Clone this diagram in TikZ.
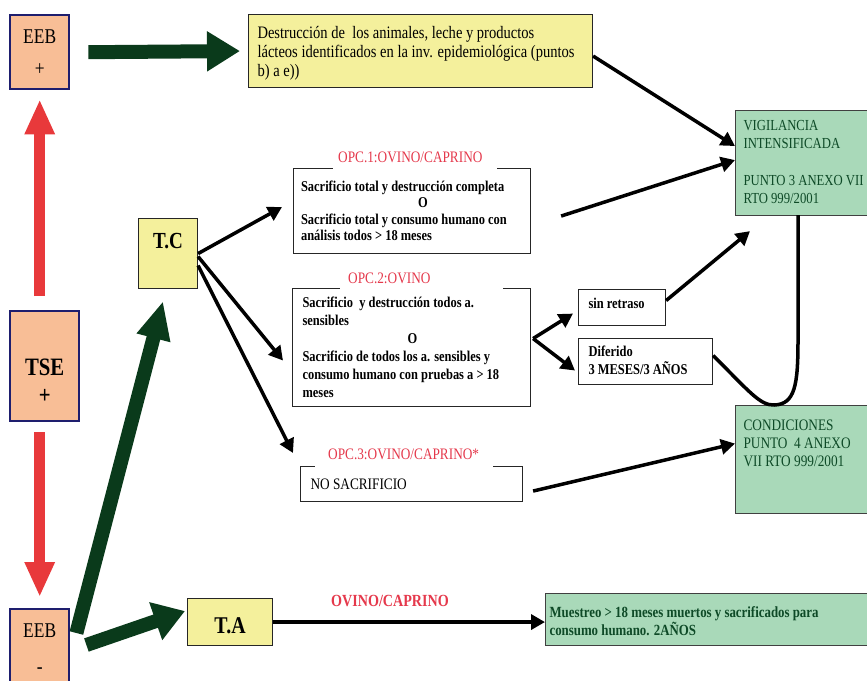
\documentclass[tikz,border=0pt]{standalone}
\usepackage{fontspec}
\setmainfont{Liberation Serif}[FakeStretch=0.83]
\usetikzlibrary{arrows.meta}
\definecolor{peach}{HTML}{F8BE96}
\definecolor{navy}{HTML}{1E1E6E}
\definecolor{yel}{HTML}{F4F09C}
\definecolor{grn}{HTML}{A9D9B9}
\definecolor{dgrn}{HTML}{0A3A1B}
\definecolor{gtext}{HTML}{0E4A27}
\definecolor{redarr}{HTML}{E8393B}
\definecolor{redtxt}{HTML}{E5394C}
\newcommand\tbox[3]{\parbox[t][#2][t]{#1}{\raggedright #3}}
\newcommand\cbox[4]{\parbox[t][#2][t]{#1}{\centering\vspace*{#3}#4}}
\begin{document}
\begin{tikzpicture}[x=1pt,y=-1pt,
  bx/.style={draw=black!85, line width=1.1pt, anchor=north west, inner xsep=8pt, inner ysep=6pt},
  gbx/.style={bx, fill=grn, draw=black!75, text=gtext},
  pbx/.style={draw=navy, line width=2.4pt, fill=peach, anchor=north west, inner sep=0pt},
  ybx/.style={draw=black!85, line width=1.1pt, fill=yel, anchor=north west, inner sep=0pt},
  lbl/.style={fill=white, text=redtxt, anchor=west, align=left, minimum height=24pt, inner ysep=0pt, font=\fontsize{16}{18}\selectfont},
  blk/.style={line width=3.5pt, -{Triangle[length=14pt,width=15pt]}},
  garr/.style={dgrn, line width=14pt},
  rarr/.style={redarr, line width=11pt, -{Triangle[length=35pt,width=28pt]}}
]
\useasboundingbox (0,0) rectangle (867,680);

% left column boxes
\node[pbx, font=\fontsize{21}{26}\selectfont] (eebp) at (9,14) {\cbox{59pt}{74pt}{15pt}{EEB\\[6pt]+}};
\node[pbx, font=\bfseries\fontsize{25}{28}\selectfont] (tse) at (9,310) {\cbox{69pt}{110pt}{48pt}{TSE\\+}};
\node[pbx, font=\fontsize{21}{26}\selectfont] (eebm) at (9,608) {\cbox{59pt}{80pt}{15pt}{EEB\\[10pt]-}};

\node[ybx, font=\bfseries\fontsize{23}{26}\selectfont] (tc) at (138,218) {\cbox{59pt}{70pt}{15pt}{T.C}};
\node[ybx, font=\bfseries\fontsize{24}{26}\selectfont] (ta) at (187,598) {\cbox{85pt}{47pt}{19pt}{T.A}};

\node[bx, fill=yel, inner xsep=9pt, inner ysep=12pt, font=\fontsize{17.5}{19}\selectfont] (dest) at (248,14) {\tbox{326pt}{49pt}{Destrucción de\ \ los animales, leche y productos\\lácteos identificados en la inv. epidemiológica (puntos\\b) a e))}};

\node[gbx, inner xsep=8pt, inner ysep=9.5pt, font=\fontsize{15.3}{18.3}\selectfont] (vig) at (735,110) {\tbox{150pt}{86pt}{VIGILANCIA\\INTENSIFICADA\\[18.3pt]PUNTO 3 ANEXO VII\\RTO 999/2001}};

\node[gbx, inner xsep=8pt, inner ysep=14.5pt, font=\fontsize{16}{18}\selectfont] (cond) at (735,405) {\tbox{150pt}{79pt}{CONDICIONES\\PUNTO\ \ 4 ANEXO\\VII RTO 999/2001}};

\node[bx, inner xsep=7.5pt, inner ysep=12pt, font=\bfseries\fontsize{15}{16.5}\selectfont] (opc1) at (293,168) {\tbox{222pt}{61pt}{Sacrificio total y destrucción completa\\\hspace*{117pt}O\\Sacrificio total y consumo humano con\\análisis todos > 18 meses}};

\node[bx, inner xsep=10pt, inner ysep=8pt, font=\bfseries\fontsize{15}{18}\selectfont] (opc2) at (292,288) {\tbox{218pt}{102pt}{Sacrificio\ \ y destrucción todos a.\\sensibles\\\hspace*{105pt}O\\Sacrificio de todos los a. sensibles y\\consumo humano con pruebas a > 18\\meses}};

\node[bx, inner xsep=10pt, inner ysep=12pt, font=\fontsize{16}{17}\selectfont] (opc3) at (300,466) {\tbox{202pt}{11pt}{NO SACRIFICIO}};

\node[bx, inner xsep=10pt, inner ysep=9pt, font=\bfseries\fontsize{15}{17}\selectfont] (sin) at (578,289) {\tbox{67pt}{18pt}{sin retraso}};
\node[bx, inner xsep=10pt, inner ysep=7.5pt, font=\bfseries\fontsize{15}{17.5}\selectfont] (dif) at (578,338) {\tbox{114pt}{31pt}{Diferido\\3 MESES/3 AÑOS}};

\node[gbx, inner xsep=4pt, inner ysep=13pt, font=\bfseries\fontsize{15.5}{15.5}\selectfont] (mues) at (545,593) {\tbox{322pt}{26pt}{Muestreo > 18 meses muertos y sacrificados para\\consumo humano. 2AÑOS}};

% red labels
\node[lbl, inner xsep=5pt, text width=154pt] (l1) at (333,157) {OPC.1:OVINO/CAPRINO};
\node[lbl, inner xsep=8pt, text width=147pt] (l2) at (340,278) {OPC.2:OVINO};
\node[lbl, inner xsep=13pt, text width=152pt, minimum height=28pt] (l3) at (315,454) {OPC.3:OVINO/CAPRINO*};
\node[text=redtxt, font=\bfseries\fontsize{17}{20}\selectfont] (lta) at (390,601) {OVINO/CAPRINO};

% heavy arrows
\draw[garr, -{Triangle[length=33pt,width=38pt]}] ([xshift=18pt]eebp.east) -- ([xshift=-8pt]dest.west);
\draw[garr, -{Triangle[length=38pt,width=32pt]}] ([xshift=6pt,yshift=-25pt]eebm.north east) -- ([xshift=-5pt,yshift=-12pt]tc.south);
\draw[garr, -{Triangle[length=31pt,width=38pt]}] ([xshift=16pt,yshift=-37pt]eebm.north east) -- ([xshift=-2pt,yshift=11pt]ta.west);

\coordinate (ru) at (eebp.south |- tse.north);
\draw[rarr] ([yshift=14pt]ru) -- ([yshift=-9pt]eebp.south);
\coordinate (rd) at (eebm.north |- tse.south);
\draw[rarr] ([yshift=-10pt]rd) -- ([yshift=11pt]eebm.north);

% black connectors
\draw[blk] ([yshift=-5pt]dest.east) -- ([yshift=17pt]vig.west);
\draw[blk] ([xshift=30pt,yshift=-5pt]opc1.east) -- ([yshift=3pt]vig.west);
\draw[blk] ([yshift=7pt]sin.east) -- ([xshift=15pt,yshift=-15pt]vig.south west);
\draw[blk] ([xshift=10pt,yshift=-7pt]opc3.east) -- ([yshift=16pt]cond.west);
\draw[blk] (tc.east) -- ([xshift=-11pt,yshift=4pt]opc1.west);
\draw[blk] ([yshift=-3pt]tc.east) -- ([xshift=-9pt,yshift=-13pt]opc2.west);
\draw[blk] ([yshift=-12pt]tc.east) -- ([xshift=-7pt,yshift=13pt]opc3.north west);
\draw[blk] ([xshift=2pt,yshift=9pt]opc2.east) -- ([xshift=-5pt,yshift=-6pt]sin.west);
\draw[blk] ([xshift=2pt,yshift=9pt]opc2.east) -- ([xshift=-3pt,yshift=-9pt]dif.west);
\draw[blk] (ta.east) -- (ta.east -| mues.west);

\coordinate (dip) at ([xshift=-44pt]cond.north);
\draw[line width=3.5pt] ([yshift=6pt]dif.east) .. controls (748,390) and (760,406) .. (dip) .. controls (795,404) and (798,385) .. (798,340) -- (798,215);
\end{tikzpicture}
\end{document}
